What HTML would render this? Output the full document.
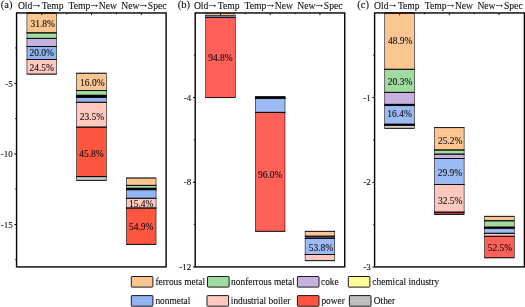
<!DOCTYPE html>
<html><head><meta charset="utf-8"><title>chart</title>
<style>
html,body{margin:0;padding:0;background:#fff;}
body{width:525px;height:307px;overflow:hidden;}
svg{display:block;}
svg text{font-family:"Liberation Serif",serif;fill:#111;stroke:#111;stroke-width:0.1px;}
</style></head><body>
<svg width="525" height="307" viewBox="0 0 525 307">
<rect width="525" height="307" fill="#fff"/>
<rect x="26.95" y="13.00" width="29.63" height="20.00" fill="#FBC692" stroke="#000" stroke-width="0.55"/><path d="M26.68 13.00H56.86M26.68 33.00H56.86" stroke="#000" stroke-width="0.75" fill="none"/>
<rect x="26.95" y="33.00" width="29.63" height="5.40" fill="#A0DCA0" stroke="#000" stroke-width="0.55"/><path d="M26.68 33.00H56.86M26.68 38.40H56.86" stroke="#000" stroke-width="0.75" fill="none"/>
<rect x="26.95" y="38.40" width="29.63" height="8.10" fill="#C7B2DF" stroke="#000" stroke-width="0.55"/><path d="M26.68 38.40H56.86M26.68 46.50H56.86" stroke="#000" stroke-width="0.75" fill="none"/>
<rect x="26.95" y="46.50" width="29.63" height="13.00" fill="#92B4F2" stroke="#000" stroke-width="0.55"/><path d="M26.68 46.50H56.86M26.68 59.50H56.86" stroke="#000" stroke-width="0.75" fill="none"/>
<rect x="26.95" y="59.50" width="29.63" height="14.60" fill="#FFC8BE" stroke="#000" stroke-width="0.55"/><path d="M26.68 59.50H56.86M26.68 74.10H56.86" stroke="#000" stroke-width="0.75" fill="none"/>
<text x="42.67" y="26.60" font-size="9.5" text-anchor="middle">31.8%</text>
<text x="41.77" y="55.70" font-size="9.5" text-anchor="middle">20.0%</text>
<text x="41.77" y="70.60" font-size="9.5" text-anchor="middle">24.5%</text>
<rect x="76.68" y="73.20" width="29.63" height="17.40" fill="#FBC692" stroke="#000" stroke-width="0.55"/><path d="M76.41 73.20H106.59M76.41 90.60H106.59" stroke="#000" stroke-width="0.75" fill="none"/>
<rect x="76.68" y="90.60" width="29.63" height="4.70" fill="#A0DCA0" stroke="#000" stroke-width="0.55"/><path d="M76.41 90.60H106.59M76.41 95.30H106.59" stroke="#000" stroke-width="0.75" fill="none"/>
<rect x="76.68" y="95.30" width="29.63" height="1.00" fill="#111" stroke="#000" stroke-width="0.55"/><path d="M76.41 95.30H106.59M76.41 96.30H106.59" stroke="#000" stroke-width="0.75" fill="none"/>
<rect x="76.68" y="96.30" width="29.63" height="1.10" fill="#111" stroke="#000" stroke-width="0.55"/><path d="M76.41 96.30H106.59M76.41 97.40H106.59" stroke="#000" stroke-width="0.75" fill="none"/>
<rect x="76.68" y="97.40" width="29.63" height="4.90" fill="#92B4F2" stroke="#000" stroke-width="0.55"/><path d="M76.41 97.40H106.59M76.41 102.30H106.59" stroke="#000" stroke-width="0.75" fill="none"/>
<rect x="76.68" y="102.30" width="29.63" height="24.90" fill="#FFC8BE" stroke="#000" stroke-width="0.55"/><path d="M76.41 102.30H106.59M76.41 127.20H106.59" stroke="#000" stroke-width="0.75" fill="none"/>
<rect x="76.68" y="127.20" width="29.63" height="49.50" fill="#FF5640" stroke="#000" stroke-width="0.55"/><path d="M76.41 127.20H106.59M76.41 176.70H106.59" stroke="#000" stroke-width="0.75" fill="none"/>
<rect x="76.68" y="176.70" width="29.63" height="3.60" fill="#C8C8C8" stroke="#000" stroke-width="0.55"/><path d="M76.41 176.70H106.59M76.41 180.30H106.59" stroke="#000" stroke-width="0.75" fill="none"/>
<text x="92.30" y="86.00" font-size="9.5" text-anchor="middle">16.0%</text>
<text x="91.90" y="120.00" font-size="9.5" text-anchor="middle">23.5%</text>
<text x="91.50" y="157.40" font-size="9.5" text-anchor="middle">45.8%</text>
<rect x="126.42" y="178.00" width="29.63" height="7.40" fill="#FBC692" stroke="#000" stroke-width="0.55"/><path d="M126.14 178.00H156.32M126.14 185.40H156.32" stroke="#000" stroke-width="0.75" fill="none"/>
<rect x="126.42" y="185.40" width="29.63" height="2.90" fill="#A0DCA0" stroke="#000" stroke-width="0.55"/><path d="M126.14 185.40H156.32M126.14 188.30H156.32" stroke="#000" stroke-width="0.75" fill="none"/>
<rect x="126.42" y="188.30" width="29.63" height="0.70" fill="#111" stroke="#000" stroke-width="0.55"/><path d="M126.14 188.30H156.32M126.14 189.00H156.32" stroke="#000" stroke-width="0.75" fill="none"/>
<rect x="126.42" y="189.00" width="29.63" height="0.80" fill="#111" stroke="#000" stroke-width="0.55"/><path d="M126.14 189.00H156.32M126.14 189.80H156.32" stroke="#000" stroke-width="0.75" fill="none"/>
<rect x="126.42" y="189.80" width="29.63" height="8.50" fill="#92B4F2" stroke="#000" stroke-width="0.55"/><path d="M126.14 189.80H156.32M126.14 198.30H156.32" stroke="#000" stroke-width="0.75" fill="none"/>
<rect x="126.42" y="198.30" width="29.63" height="9.80" fill="#FFC8BE" stroke="#000" stroke-width="0.55"/><path d="M126.14 198.30H156.32M126.14 208.10H156.32" stroke="#000" stroke-width="0.75" fill="none"/>
<rect x="126.42" y="208.10" width="29.63" height="36.30" fill="#FF5640" stroke="#000" stroke-width="0.55"/><path d="M126.14 208.10H156.32M126.14 244.40H156.32" stroke="#000" stroke-width="0.75" fill="none"/>
<text x="141.23" y="206.70" font-size="9.5" text-anchor="middle">15.4%</text>
<text x="141.23" y="229.80" font-size="9.5" text-anchor="middle">54.9%</text>
<rect x="16.55" y="12.95" width="149.55" height="253.95" fill="none" stroke="#000" stroke-width="1.4"/>
<line x1="14.35" x2="16.55" y1="83.4" y2="83.4" stroke="#000" stroke-width="1.0"/>
<text x="12.65" y="86.60" font-size="9.0" text-anchor="end">-5</text>
<line x1="14.35" x2="16.55" y1="154.0" y2="154.0" stroke="#000" stroke-width="1.0"/>
<text x="12.65" y="157.20" font-size="9.0" text-anchor="end">-10</text>
<line x1="14.35" x2="16.55" y1="224.6" y2="224.6" stroke="#000" stroke-width="1.0"/>
<text x="12.65" y="227.80" font-size="9.0" text-anchor="end">-15</text>
<line x1="15.10" x2="16.55" y1="47.9" y2="47.9" stroke="#000" stroke-width="0.8"/>
<line x1="15.10" x2="16.55" y1="118.5" y2="118.5" stroke="#000" stroke-width="0.8"/>
<line x1="15.10" x2="16.55" y1="189.1" y2="189.1" stroke="#000" stroke-width="0.8"/>
<line x1="15.10" x2="16.55" y1="259.7" y2="259.7" stroke="#000" stroke-width="0.8"/>
<line x1="41.77" x2="41.77" y1="12.95" y2="15.149999999999999" stroke="#000" stroke-width="0.9"/>
<line x1="91.50" x2="91.50" y1="12.95" y2="15.149999999999999" stroke="#000" stroke-width="0.9"/>
<line x1="141.23" x2="141.23" y1="12.95" y2="15.149999999999999" stroke="#000" stroke-width="0.9"/>
<line x1="66.63" x2="66.63" y1="12.95" y2="14.35" stroke="#000" stroke-width="0.8"/>
<line x1="116.37" x2="116.37" y1="12.95" y2="14.35" stroke="#000" stroke-width="0.8"/>
<text x="17.90" y="8.5" font-size="9.65">Old</text><text transform="translate(36.70,6.5) scale(1.2,0.8)" style="stroke-width:0.1px" font-size="9.65" text-anchor="middle">→</text><text x="41.80" y="8.5" font-size="9.65">Temp</text>
<text x="68.60" y="8.5" font-size="9.65">Temp</text><text transform="translate(94.60,6.5) scale(1.2,0.8)" style="stroke-width:0.1px" font-size="9.65" text-anchor="middle">→</text><text x="98.80" y="8.5" font-size="9.65">New</text>
<text x="121.30" y="8.5" font-size="9.65">New</text><text transform="translate(143.40,6.5) scale(1.2,0.8)" style="stroke-width:0.1px" font-size="9.65" text-anchor="middle">→</text><text x="147.85" y="8.5" font-size="9.65">Spec</text>
<text x="0.75" y="7.8" font-size="10.5">(a)</text>
<rect x="205.65" y="13.50" width="29.63" height="1.85" fill="#FBC692" stroke="#000" stroke-width="0.2"/><path d="M205.55 13.50H235.38M205.55 15.35H235.38" stroke="#000" stroke-width="0.2" fill="none"/>
<rect x="205.65" y="15.70" width="29.63" height="1.45" fill="#9CBAF4" stroke="#000" stroke-width="0.4"/><path d="M205.45 15.70H235.48M205.45 17.15H235.48" stroke="#000" stroke-width="0.4" fill="none"/>
<rect x="205.65" y="17.40" width="29.63" height="80.20" fill="#FF6058" stroke="#000" stroke-width="0.55"/><path d="M205.37 17.40H235.56M205.37 97.60H235.56" stroke="#000" stroke-width="0.75" fill="none"/>
<text x="220.47" y="60.90" font-size="9.5" text-anchor="middle">94.8%</text>
<rect x="255.38" y="96.75" width="29.63" height="0.65" fill="#111" stroke="#000" stroke-width="0.55"/><path d="M255.11 96.75H285.29M255.11 97.40H285.29" stroke="#000" stroke-width="0.75" fill="none"/>
<rect x="255.38" y="97.40" width="29.63" height="0.60" fill="#111" stroke="#000" stroke-width="0.55"/><path d="M255.11 97.40H285.29M255.11 98.00H285.29" stroke="#000" stroke-width="0.75" fill="none"/>
<rect x="255.38" y="98.00" width="29.63" height="0.55" fill="#111" stroke="#000" stroke-width="0.55"/><path d="M255.11 98.00H285.29M255.11 98.55H285.29" stroke="#000" stroke-width="0.75" fill="none"/>
<rect x="255.38" y="98.55" width="29.63" height="13.85" fill="#9CBAF4" stroke="#000" stroke-width="0.55"/><path d="M255.11 98.55H285.29M255.11 112.40H285.29" stroke="#000" stroke-width="0.75" fill="none"/>
<rect x="255.38" y="112.40" width="29.63" height="118.90" fill="#FF6058" stroke="#000" stroke-width="0.55"/><path d="M255.11 112.40H285.29M255.11 231.30H285.29" stroke="#000" stroke-width="0.75" fill="none"/>
<text x="270.20" y="178.40" font-size="9.5" text-anchor="middle">96.0%</text>
<rect x="305.12" y="231.30" width="29.63" height="4.90" fill="#FBC692" stroke="#000" stroke-width="0.55"/><path d="M304.84 231.30H335.02M304.84 236.20H335.02" stroke="#000" stroke-width="0.75" fill="none"/>
<rect x="305.12" y="236.20" width="29.63" height="2.20" fill="#544A62" stroke="#000" stroke-width="0.45"/><path d="M304.89 236.20H334.98M304.89 238.40H334.98" stroke="#000" stroke-width="0.45" fill="none"/>
<rect x="305.12" y="238.40" width="29.63" height="16.10" fill="#9CBAF4" stroke="#000" stroke-width="0.55"/><path d="M304.84 238.40H335.02M304.84 254.50H335.02" stroke="#000" stroke-width="0.75" fill="none"/>
<rect x="305.12" y="254.50" width="29.63" height="6.20" fill="#FFC8BE" stroke="#000" stroke-width="0.55"/><path d="M304.84 254.50H335.02M304.84 260.70H335.02" stroke="#000" stroke-width="0.75" fill="none"/>
<text x="320.93" y="250.70" font-size="9.5" text-anchor="middle">53.8%</text>
<rect x="195.20" y="12.95" width="149.55" height="253.95" fill="none" stroke="#000" stroke-width="1.4"/>
<line x1="193.00" x2="195.20" y1="97.6" y2="97.6" stroke="#000" stroke-width="1.0"/>
<text x="191.30" y="100.80" font-size="9.0" text-anchor="end">-4</text>
<line x1="193.00" x2="195.20" y1="182.3" y2="182.3" stroke="#000" stroke-width="1.0"/>
<text x="191.30" y="184.60" font-size="9.0" text-anchor="end">-8</text>
<line x1="193.00" x2="195.20" y1="267.0" y2="267.0" stroke="#000" stroke-width="1.0"/>
<text x="191.30" y="270.20" font-size="9.0" text-anchor="end">-12</text>
<line x1="193.75" x2="195.20" y1="55.1" y2="55.1" stroke="#000" stroke-width="0.8"/>
<line x1="193.75" x2="195.20" y1="139.7" y2="139.7" stroke="#000" stroke-width="0.8"/>
<line x1="193.75" x2="195.20" y1="224.3" y2="224.3" stroke="#000" stroke-width="0.8"/>
<line x1="220.47" x2="220.47" y1="12.95" y2="15.149999999999999" stroke="#000" stroke-width="0.9"/>
<line x1="270.20" x2="270.20" y1="12.95" y2="15.149999999999999" stroke="#000" stroke-width="0.9"/>
<line x1="319.93" x2="319.93" y1="12.95" y2="15.149999999999999" stroke="#000" stroke-width="0.9"/>
<line x1="245.33" x2="245.33" y1="12.95" y2="14.35" stroke="#000" stroke-width="0.8"/>
<line x1="295.07" x2="295.07" y1="12.95" y2="14.35" stroke="#000" stroke-width="0.8"/>
<text x="193.90" y="8.5" font-size="9.65">Old</text><text transform="translate(212.70,6.5) scale(1.2,0.8)" style="stroke-width:0.1px" font-size="9.65" text-anchor="middle">→</text><text x="217.80" y="8.5" font-size="9.65">Temp</text>
<text x="244.60" y="8.5" font-size="9.65">Temp</text><text transform="translate(270.60,6.5) scale(1.2,0.8)" style="stroke-width:0.1px" font-size="9.65" text-anchor="middle">→</text><text x="274.80" y="8.5" font-size="9.65">New</text>
<text x="297.30" y="8.5" font-size="9.65">New</text><text transform="translate(319.40,6.5) scale(1.2,0.8)" style="stroke-width:0.1px" font-size="9.65" text-anchor="middle">→</text><text x="323.85" y="8.5" font-size="9.65">Spec</text>
<text x="177.85" y="7.8" font-size="10.5">(b)</text>
<rect x="384.75" y="13.00" width="29.63" height="56.30" fill="#FBC692" stroke="#000" stroke-width="0.55"/><path d="M384.48 13.00H414.66M384.48 69.30H414.66" stroke="#000" stroke-width="0.75" fill="none"/>
<rect x="384.75" y="69.30" width="29.63" height="23.10" fill="#A0DCA0" stroke="#000" stroke-width="0.55"/><path d="M384.48 69.30H414.66M384.48 92.40H414.66" stroke="#000" stroke-width="0.75" fill="none"/>
<rect x="384.75" y="92.40" width="29.63" height="12.00" fill="#C7B2DF" stroke="#000" stroke-width="0.55"/><path d="M384.48 92.40H414.66M384.48 104.40H414.66" stroke="#000" stroke-width="0.75" fill="none"/>
<rect x="384.75" y="104.40" width="29.63" height="1.15" fill="#111" stroke="#000" stroke-width="0.55"/><path d="M384.48 104.40H414.66M384.48 105.55H414.66" stroke="#000" stroke-width="0.75" fill="none"/>
<rect x="384.75" y="105.55" width="29.63" height="18.70" fill="#9CBAF4" stroke="#000" stroke-width="0.55"/><path d="M384.48 105.55H414.66M384.48 124.25H414.66" stroke="#000" stroke-width="0.75" fill="none"/>
<rect x="384.75" y="124.25" width="29.63" height="0.55" fill="#111" stroke="#000" stroke-width="0.55"/><path d="M384.48 124.25H414.66M384.48 124.80H414.66" stroke="#000" stroke-width="0.75" fill="none"/>
<rect x="384.75" y="124.80" width="29.63" height="0.55" fill="#111" stroke="#000" stroke-width="0.55"/><path d="M384.48 124.80H414.66M384.48 125.35H414.66" stroke="#000" stroke-width="0.75" fill="none"/>
<rect x="384.75" y="125.35" width="29.63" height="2.95" fill="#D2D2D2" stroke="#000" stroke-width="0.55"/><path d="M384.48 125.35H414.66M384.48 128.30H414.66" stroke="#000" stroke-width="0.75" fill="none"/>
<text x="400.17" y="44.10" font-size="9.5" text-anchor="middle">48.9%</text>
<text x="400.07" y="85.20" font-size="9.5" text-anchor="middle">20.3%</text>
<text x="399.57" y="117.40" font-size="9.5" text-anchor="middle">16.4%</text>
<rect x="434.48" y="127.60" width="29.63" height="22.50" fill="#FBC692" stroke="#000" stroke-width="0.55"/><path d="M434.21 127.60H464.39M434.21 150.10H464.39" stroke="#000" stroke-width="0.75" fill="none"/>
<rect x="434.48" y="150.10" width="29.63" height="4.10" fill="#A0DCA0" stroke="#000" stroke-width="0.55"/><path d="M434.21 150.10H464.39M434.21 154.20H464.39" stroke="#000" stroke-width="0.75" fill="none"/>
<rect x="434.48" y="154.20" width="29.63" height="4.30" fill="#C7B2DF" stroke="#000" stroke-width="0.55"/><path d="M434.21 154.20H464.39M434.21 158.50H464.39" stroke="#000" stroke-width="0.75" fill="none"/>
<rect x="434.48" y="158.50" width="29.63" height="26.00" fill="#9CBAF4" stroke="#000" stroke-width="0.55"/><path d="M434.21 158.50H464.39M434.21 184.50H464.39" stroke="#000" stroke-width="0.75" fill="none"/>
<rect x="434.48" y="184.50" width="29.63" height="27.70" fill="#FFC8BE" stroke="#000" stroke-width="0.55"/><path d="M434.21 184.50H464.39M434.21 212.20H464.39" stroke="#000" stroke-width="0.75" fill="none"/>
<rect x="434.48" y="212.20" width="29.63" height="2.20" fill="#C84444" stroke="#000" stroke-width="0.55"/><path d="M434.21 212.20H464.39M434.21 214.40H464.39" stroke="#000" stroke-width="0.75" fill="none"/>
<text x="450.20" y="144.10" font-size="9.5" text-anchor="middle">25.2%</text>
<text x="449.90" y="176.20" font-size="9.5" text-anchor="middle">29.9%</text>
<text x="450.20" y="203.50" font-size="9.5" text-anchor="middle">32.5%</text>
<rect x="484.57" y="216.30" width="29.63" height="4.60" fill="#FBC692" stroke="#000" stroke-width="0.55"/><path d="M484.29 216.30H514.48M484.29 220.90H514.48" stroke="#000" stroke-width="0.75" fill="none"/>
<rect x="484.57" y="220.90" width="29.63" height="6.30" fill="#A0DCA0" stroke="#000" stroke-width="0.55"/><path d="M484.29 220.90H514.48M484.29 227.20H514.48" stroke="#000" stroke-width="0.75" fill="none"/>
<rect x="484.57" y="227.20" width="29.63" height="0.60" fill="#111" stroke="#000" stroke-width="0.55"/><path d="M484.29 227.20H514.48M484.29 227.80H514.48" stroke="#000" stroke-width="0.75" fill="none"/>
<rect x="484.57" y="227.80" width="29.63" height="0.50" fill="#111" stroke="#000" stroke-width="0.55"/><path d="M484.29 227.80H514.48M484.29 228.30H514.48" stroke="#000" stroke-width="0.75" fill="none"/>
<rect x="484.57" y="228.30" width="29.63" height="5.00" fill="#9CBAF4" stroke="#000" stroke-width="0.55"/><path d="M484.29 228.30H514.48M484.29 233.30H514.48" stroke="#000" stroke-width="0.75" fill="none"/>
<rect x="484.57" y="233.30" width="29.63" height="3.00" fill="#FFC8BE" stroke="#000" stroke-width="0.55"/><path d="M484.29 233.30H514.48M484.29 236.30H514.48" stroke="#000" stroke-width="0.75" fill="none"/>
<rect x="484.57" y="236.30" width="29.63" height="21.50" fill="#FF6058" stroke="#000" stroke-width="0.55"/><path d="M484.29 236.30H514.48M484.29 257.80H514.48" stroke="#000" stroke-width="0.75" fill="none"/>
<text x="499.98" y="251.30" font-size="9.5" text-anchor="middle">52.5%</text>
<rect x="374.60" y="12.95" width="149.80" height="253.95" fill="none" stroke="#000" stroke-width="1.4"/>
<line x1="372.40" x2="374.60" y1="97.6" y2="97.6" stroke="#000" stroke-width="1.0"/>
<text x="370.70" y="100.80" font-size="9.0" text-anchor="end">-1</text>
<line x1="372.40" x2="374.60" y1="182.3" y2="182.3" stroke="#000" stroke-width="1.0"/>
<text x="370.70" y="184.50" font-size="9.0" text-anchor="end">-2</text>
<line x1="372.40" x2="374.60" y1="267.0" y2="267.0" stroke="#000" stroke-width="1.0"/>
<text x="370.70" y="269.90" font-size="9.0" text-anchor="end">-3</text>
<line x1="373.15" x2="374.60" y1="55.3" y2="55.3" stroke="#000" stroke-width="0.8"/>
<line x1="373.15" x2="374.60" y1="139.9" y2="139.9" stroke="#000" stroke-width="0.8"/>
<line x1="373.15" x2="374.60" y1="224.4" y2="224.4" stroke="#000" stroke-width="0.8"/>
<line x1="399.57" x2="399.57" y1="12.95" y2="15.149999999999999" stroke="#000" stroke-width="0.9"/>
<line x1="449.30" x2="449.30" y1="12.95" y2="15.149999999999999" stroke="#000" stroke-width="0.9"/>
<line x1="499.03" x2="499.03" y1="12.95" y2="15.149999999999999" stroke="#000" stroke-width="0.9"/>
<line x1="424.43" x2="424.43" y1="12.95" y2="14.35" stroke="#000" stroke-width="0.8"/>
<line x1="474.17" x2="474.17" y1="12.95" y2="14.35" stroke="#000" stroke-width="0.8"/>
<text x="374.00" y="8.5" font-size="9.65">Old</text><text transform="translate(392.80,6.5) scale(1.2,0.8)" style="stroke-width:0.1px" font-size="9.65" text-anchor="middle">→</text><text x="397.90" y="8.5" font-size="9.65">Temp</text>
<text x="424.70" y="8.5" font-size="9.65">Temp</text><text transform="translate(450.70,6.5) scale(1.2,0.8)" style="stroke-width:0.1px" font-size="9.65" text-anchor="middle">→</text><text x="454.90" y="8.5" font-size="9.65">New</text>
<text x="477.40" y="8.5" font-size="9.65">New</text><text transform="translate(499.50,6.5) scale(1.2,0.8)" style="stroke-width:0.1px" font-size="9.65" text-anchor="middle">→</text><text x="503.95" y="8.5" font-size="9.65">Spec</text>
<text x="357.35" y="7.8" font-size="10.5">(c)</text>
<rect x="131.3" y="276.5" width="21.6" height="10.6" rx="0.6" fill="#FBC692" stroke="#1a1a1a" stroke-width="1.0"/>
<text x="155.4" y="285.00" font-size="9.38">ferrous metal</text>
<rect x="207.5" y="276.5" width="21.6" height="10.6" rx="0.6" fill="#A0DCA0" stroke="#1a1a1a" stroke-width="1.0"/>
<text x="231.1" y="285.00" font-size="9.38">nonferrous metal</text>
<rect x="297.4" y="276.5" width="21.6" height="10.6" rx="0.6" fill="#C7B2DF" stroke="#1a1a1a" stroke-width="1.0"/>
<text x="321.0" y="285.00" font-size="9.38">coke</text>
<rect x="348.3" y="276.5" width="21.6" height="10.6" rx="0.6" fill="#FFFB9A" stroke="#1a1a1a" stroke-width="1.0"/>
<text x="372.3" y="285.00" font-size="9.38">chemical industry</text>
<rect x="131.3" y="295.6" width="21.6" height="10.6" rx="0.6" fill="#92B4F2" stroke="#1a1a1a" stroke-width="1.0"/>
<text x="155.4" y="304.10" font-size="9.38">nonmetal</text>
<rect x="207.0" y="295.6" width="21.6" height="10.6" rx="0.6" fill="#FFC8BE" stroke="#1a1a1a" stroke-width="1.0"/>
<text x="230.8" y="304.10" font-size="9.38">industrial boiler</text>
<rect x="297.4" y="295.6" width="21.6" height="10.6" rx="0.6" fill="#FF5540" stroke="#1a1a1a" stroke-width="1.0"/>
<text x="321.4" y="304.10" font-size="9.38">power</text>
<rect x="349.4" y="295.6" width="21.6" height="10.6" rx="0.6" fill="#BFBFBF" stroke="#1a1a1a" stroke-width="1.0"/>
<text x="373.8" y="304.10" font-size="9.38">Other</text>
</svg>
</body></html>
